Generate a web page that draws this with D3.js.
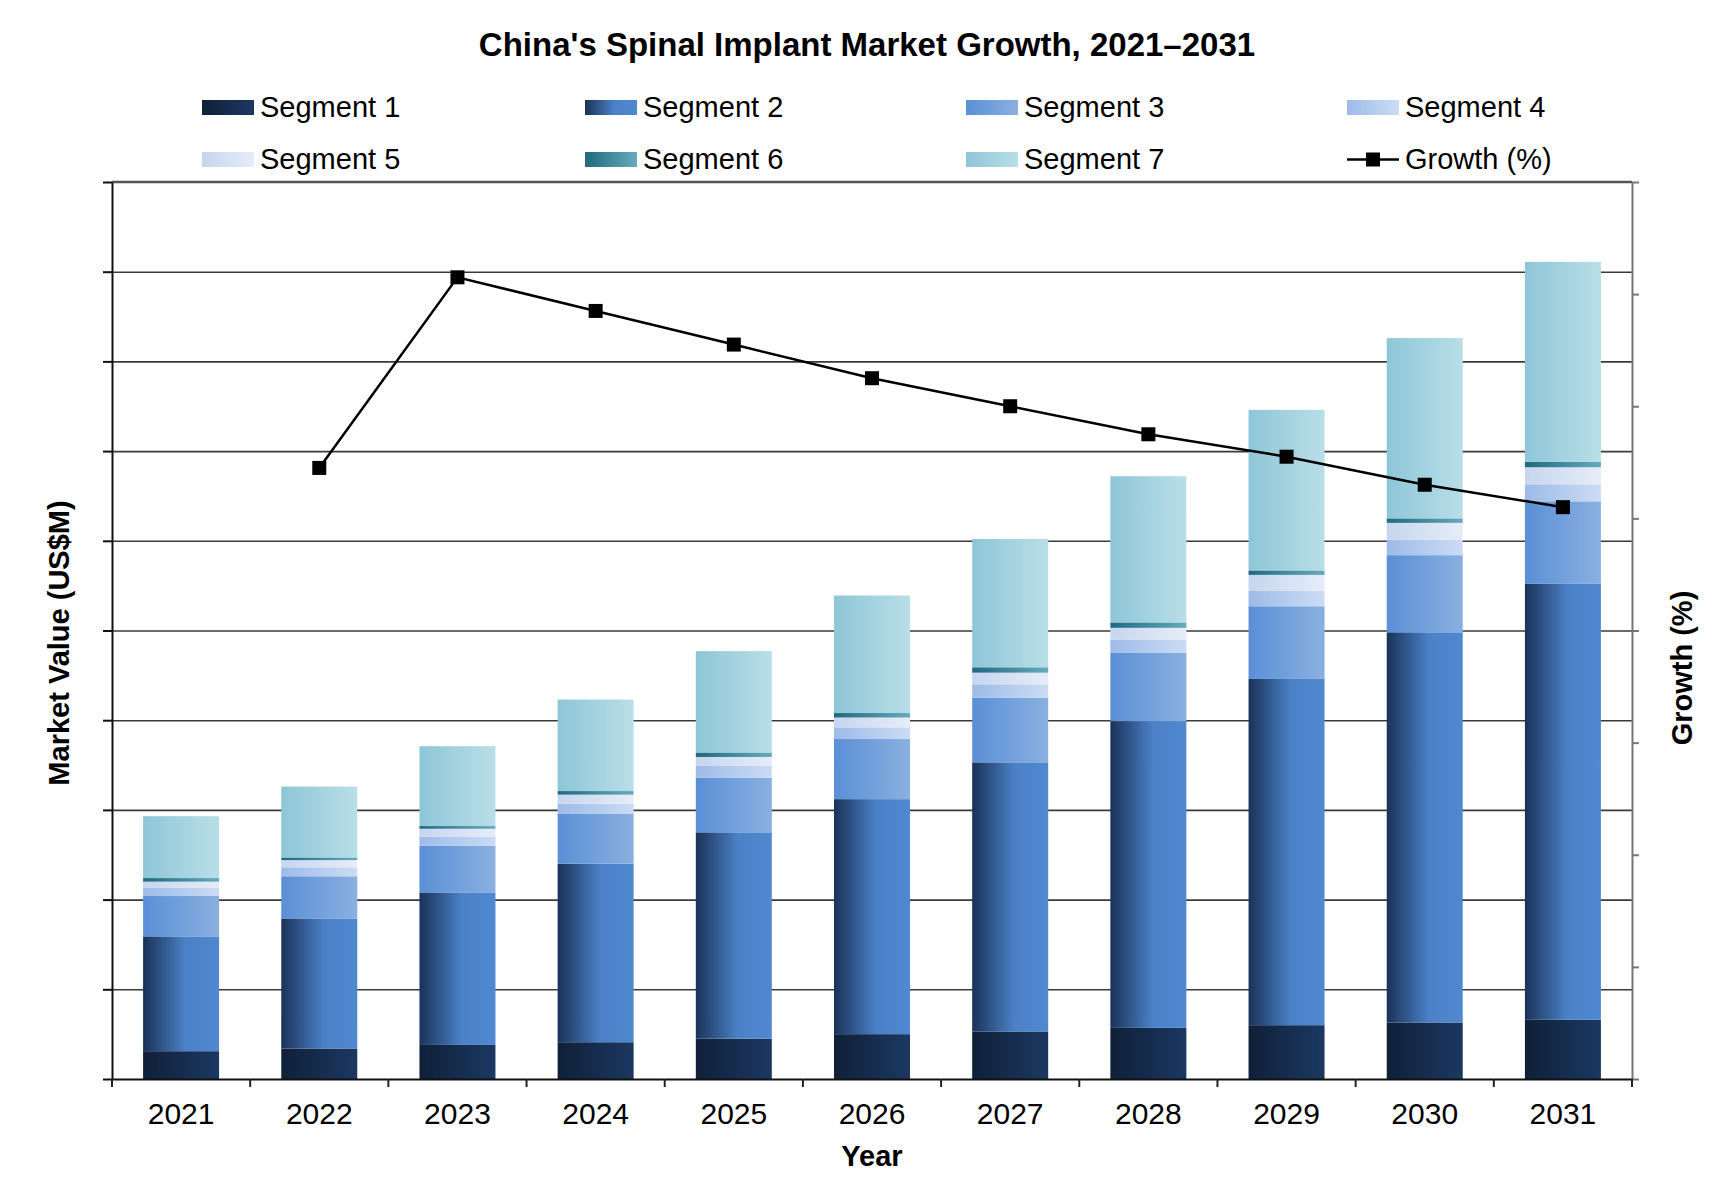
<!DOCTYPE html>
<html>
<head>
<meta charset="utf-8">
<script src="https://cdn.jsdelivr.net/npm/d3@7"></script>
<style>
  body { margin: 0; background: #fff; }
  text { font-family: "Liberation Sans", Arial, sans-serif; fill: #000; }
</style>
</head>
<body>
<div id="chart"></div>
<script>
// data (market value in US$M, growth in %)
const years = ["2021", "2022", "2023", "2024", "2025", "2026", "2027", "2028", "2029", "2030", "2031"];
const segmentNames = ["Segment 1", "Segment 2", "Segment 3", "Segment 4", "Segment 5", "Segment 6", "Segment 7"];
const segment1 = [31, 34, 38, 41, 45, 50, 53, 57, 60, 63, 66];
const segment2 = [128, 145, 170, 199, 230, 262, 300, 342, 386, 435, 486];
const segment3 = [45, 47, 52, 56, 61, 67, 72, 76, 81, 86, 92];
const segment4 = [9, 10, 10, 11, 13, 13, 15, 15, 17, 17, 19];
const segment5 = [7, 8, 9, 10, 10, 11, 13, 13, 18, 19, 19];
const segment6 = [4, 3, 3, 4, 5, 5, 6, 6, 5, 5, 6];
const segment7 = [69, 79, 89, 102, 113, 131, 143, 163, 179, 201, 223];
const growth = [null, 10.9, 14.3, 13.7, 13.1, 12.5, 12.0, 11.5, 11.1, 10.6, 10.2];

const segmentSeries = [segment1, segment2, segment3, segment4, segment5, segment6, segment7];

// gradient stops per segment: left edge -> right edge
const segColors = [
    ["#0f2038", "#1c3862"],
    ["#1a3258", "#4a80c6", "#5089d0"],
    ["#5a8fd6", "#8ab0e0"],
    ["#9dbbe8", "#cbdcf4"],
    ["#c6d5ee", "#e6edf8"],
    ["#20697f", "#66abbd"],
    ["#8ec6d7", "#b9dee8"]
];

const W = 1734, H = 1192;
const margin = {top: 182, right: 102, bottom: 113, left: 112};
const width = W - margin.left - margin.right;
const height = H - margin.top - margin.bottom;

const svg = d3.select("#chart").append("svg")
    .attr("width", W)
    .attr("height", H)
    .style("display", "block");

svg.append("rect").attr("width", W).attr("height", H).attr("fill", "#fff");

// gradients
const defs = svg.append("defs");
segColors.forEach(function(stops, i) {
    const g = defs.append("linearGradient")
        .attr("id", "seg" + i)
        .attr("x1", 0).attr("x2", 1).attr("y1", 0).attr("y2", 0);
    g.selectAll("stop")
        .data(stops)
        .enter()
        .append("stop")
        .attr("offset", (d, j) => (stops.length === 3 ? [0, 0.55, 1][j] : j))
        .attr("stop-color", d => d);
});

// table for the stack
const table = years.map(function(yr, i) {
    const row = {year: yr};
    segmentNames.forEach((s, k) => { row[s] = segmentSeries[k][i]; });
    return row;
});
const stacked = d3.stack().keys(segmentNames)(table);

const g = svg.append("g").attr("transform", "translate(" + margin.left + "," + margin.top + ")");

const x = d3.scaleBand()
    .domain(years)
    .range([0, width])
    .paddingInner(0.45)
    .paddingOuter(0.225);

const y = d3.scaleLinear().domain([0, 1000]).range([height, 0]);
const y2 = d3.scaleLinear().domain([0, 16]).range([height, 0]);

// gridlines
const grid = g.append("g")
    .call(d3.axisLeft(y).tickValues(d3.range(100, 1000, 100)).tickSize(-width).tickFormat(""));
grid.select(".domain").remove();
grid.selectAll("line").attr("stroke", "#3a3a3a").attr("stroke-width", 1.6);

// top border
g.append("line")
    .attr("x1", 0).attr("x2", width)
    .attr("y1", 0).attr("y2", 0)
    .attr("stroke", "#555").attr("stroke-width", 2.5);

// bars
g.selectAll("g.layer")
    .data(stacked)
    .enter()
    .append("g")
    .attr("class", "layer")
    .attr("fill", (d, i) => "url(#seg" + i + ")")
    .selectAll("rect")
    .data(d => d)
    .enter()
    .append("rect")
    .attr("x", d => x(d.data.year))
    .attr("width", x.bandwidth())
    .attr("y", d => y(d[1]))
    .attr("height", d => y(d[0]) - y(d[1]));

// left axis
const yAxis = g.append("g")
    .call(d3.axisLeft(y).tickValues(d3.range(0, 1001, 100)).tickSize(9).tickFormat("").tickSizeOuter(0));
yAxis.selectAll("path, line").attr("stroke", "#111").attr("stroke-width", 2);

// right axis
const y2Axis = g.append("g")
    .attr("transform", "translate(" + width + ",0)")
    .call(d3.axisRight(y2).tickValues(d3.range(0, 17, 2)).tickSize(7).tickFormat("").tickSizeOuter(0));
y2Axis.selectAll("path, line").attr("stroke", "#777").attr("stroke-width", 2);

// bottom axis: ticks on band boundaries, labels at centres
const xAxis = g.append("g")
    .attr("transform", "translate(0," + height + ")")
    .call(d3.axisBottom(x).tickSize(0).tickPadding(24).tickSizeOuter(0));
xAxis.select(".domain").attr("stroke", "#111").attr("stroke-width", 2);
xAxis.selectAll("text")
    .style("font-family", "'Liberation Sans', Arial, sans-serif")
    .style("font-size", "30px")
    .attr("fill", "#000");
xAxis.selectAll("line.boundary")
    .data(d3.range(years.length + 1))
    .enter()
    .append("line")
    .attr("class", "boundary")
    .attr("x1", d => d * x.step()).attr("x2", d => d * x.step())
    .attr("y1", 0).attr("y2", 8)
    .attr("stroke", "#222").attr("stroke-width", 2);

// growth line
const growthPts = years.map((yr, i) => ({year: yr, v: growth[i]})).filter(d => d.v !== null);
const line = d3.line()
    .x(d => x(d.year) + x.bandwidth() / 2)
    .y(d => y2(d.v));
g.append("path")
    .datum(growthPts)
    .attr("fill", "none")
    .attr("stroke", "#000")
    .attr("stroke-width", 2.5)
    .attr("d", line);
g.selectAll("rect.marker")
    .data(growthPts)
    .enter()
    .append("rect")
    .attr("class", "marker")
    .attr("x", d => x(d.year) + x.bandwidth() / 2 - 7)
    .attr("y", d => y2(d.v) - 7)
    .attr("width", 14).attr("height", 14)
    .attr("fill", "#000");

// axis titles
svg.append("text")
    .attr("transform", "translate(69,643) rotate(-90)")
    .attr("text-anchor", "middle")
    .style("font-size", "29px")
    .style("font-weight", "bold")
    .text("Market Value (US$M)");

svg.append("text")
    .attr("transform", "translate(1692,668) rotate(-90)")
    .attr("text-anchor", "middle")
    .style("font-size", "29px")
    .style("font-weight", "bold")
    .text("Growth (%)");

svg.append("text")
    .attr("x", margin.left + width / 2)
    .attr("y", 1166)
    .attr("text-anchor", "middle")
    .style("font-size", "29px")
    .style("font-weight", "bold")
    .text("Year");

// title
svg.append("text")
    .attr("x", W / 2)
    .attr("y", 56)
    .attr("text-anchor", "middle")
    .style("font-size", "33px")
    .style("font-weight", "bold")
    .text("China's Spinal Implant Market Growth, 2021\u20132031");

// legend
const legendCols = [202, 585, 966, 1347];
const legendRows = [100, 152];
const legendItems = segmentNames.concat(["Growth (%)"]);
const legend = svg.selectAll("g.legend")
    .data(legendItems)
    .enter()
    .append("g")
    .attr("class", "legend")
    .attr("transform", (d, i) => "translate(" + legendCols[i % 4] + "," + legendRows[Math.floor(i / 4)] + ")");

legend.filter((d, i) => i < 7)
    .append("rect")
    .attr("width", 52).attr("height", 15)
    .attr("fill", (d, i) => "url(#seg" + i + ")");

const growthKey = legend.filter((d, i) => i === 7);
growthKey.append("line")
    .attr("x1", 0).attr("x2", 52)
    .attr("y1", 7.5).attr("y2", 7.5)
    .attr("stroke", "#000").attr("stroke-width", 2.5);
growthKey.append("rect")
    .attr("x", 19).attr("y", 0.5)
    .attr("width", 14).attr("height", 14)
    .attr("fill", "#000");

legend.append("text")
    .attr("x", 58)
    .attr("y", 17)
    .style("font-size", "29px")
    .text(d => d);
</script>
</body>
</html>
